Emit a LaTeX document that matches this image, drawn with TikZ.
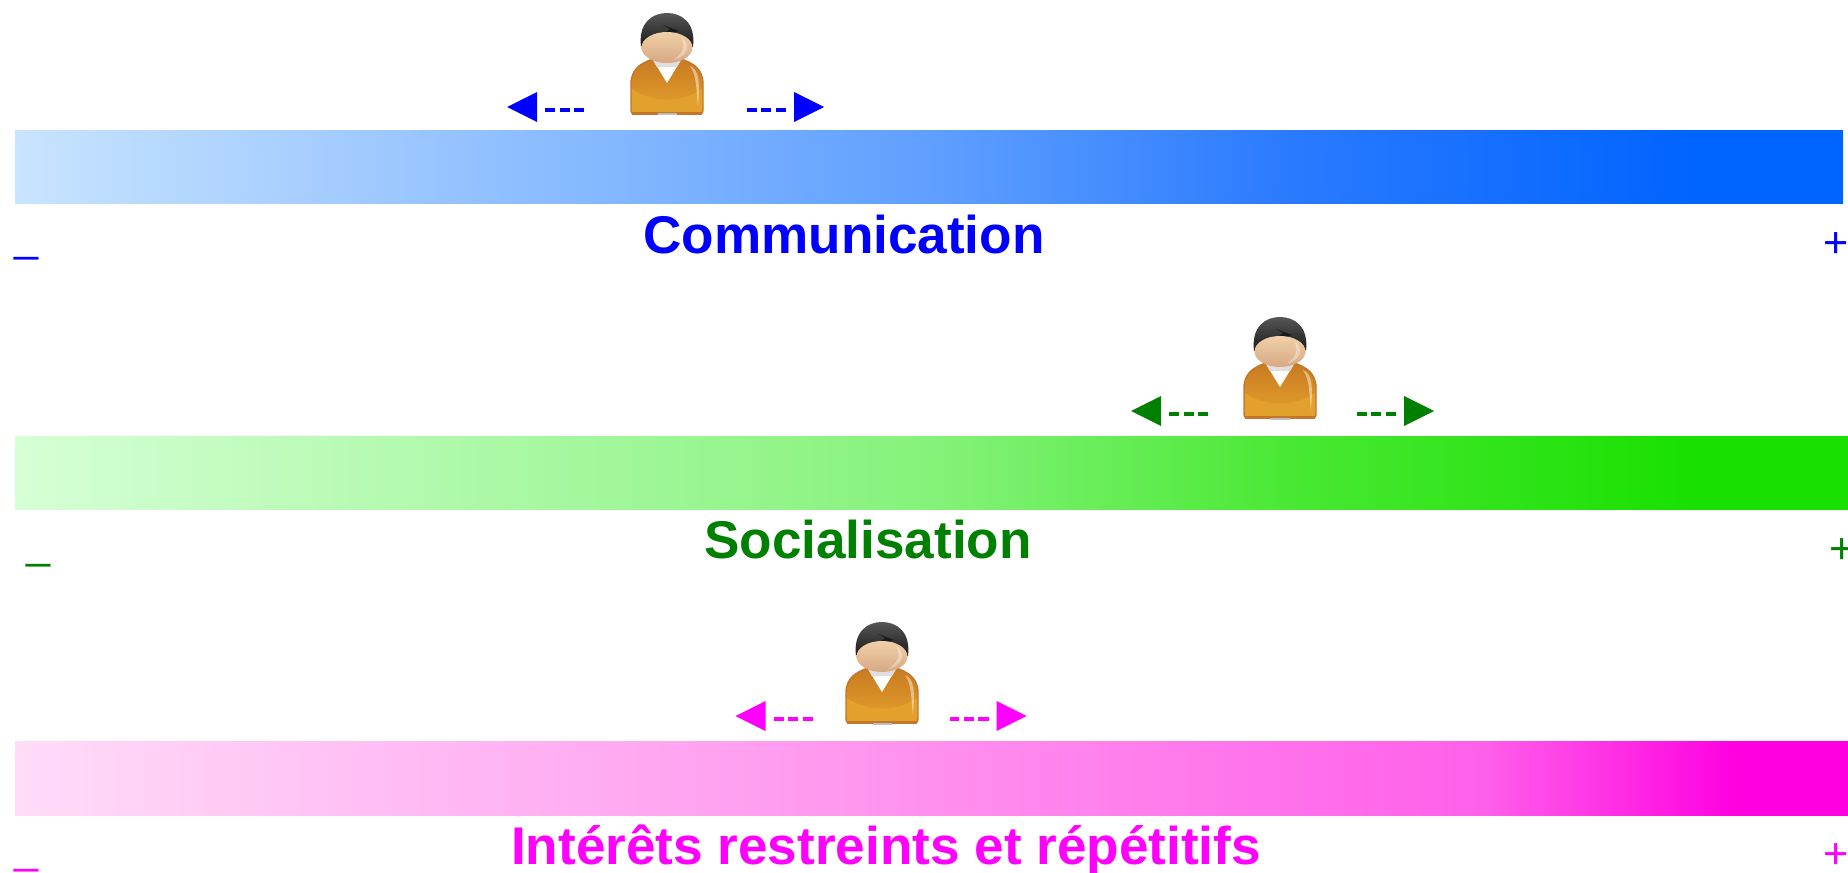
\documentclass[tikz,border=0pt]{standalone}
\usepackage{fontspec}
\setmainfont{Liberation Sans}
\definecolor{shirtdark}{HTML}{C97A22}
\definecolor{shirtlight}{HTML}{E4A22C}
\definecolor{shirtlens}{HTML}{E2A02C}
\definecolor{shirtedge}{HTML}{C4762A}
\definecolor{hairtop}{HTML}{565656}
\definecolor{hairlow}{HTML}{1A1A1A}
\definecolor{skintop}{HTML}{F0D0A8}
\definecolor{skinlow}{HTML}{D6A883}
\definecolor{commcolor}{HTML}{0000FF}
\definecolor{soccolor}{HTML}{008000}
\definecolor{intcolor}{HTML}{FF00FF}
\definecolor{commA}{HTML}{C8E4FF}
\definecolor{commB}{HTML}{5F9FFF}
\definecolor{commC}{HTML}{2A7AFF}
\definecolor{commD}{HTML}{0064FF}
\definecolor{socA}{HTML}{D6FFD6}
\definecolor{socB}{HTML}{85F27A}
\definecolor{socC}{HTML}{48E832}
\definecolor{socD}{HTML}{18E000}
\definecolor{intA}{HTML}{FFDCF8}
\definecolor{intB}{HTML}{FF90EE}
\definecolor{intC}{HTML}{FF60EA}
\definecolor{intD}{HTML}{FF00E0}
\pgfdeclarehorizontalshading{commbar}{100bp}{color(0bp)=(commA); color(25bp)=(commA); color(50bp)=(commB); color(60bp)=(commC); color(71bp)=(commD); color(100bp)=(commD)}
\pgfdeclarehorizontalshading{socbar}{100bp}{color(0bp)=(socA); color(25bp)=(socA); color(50bp)=(socB); color(60bp)=(socC); color(71bp)=(socD); color(100bp)=(socD)}
\pgfdeclarehorizontalshading{intbar}{100bp}{color(0bp)=(intA); color(25bp)=(intA); color(50bp)=(intB); color(65bp)=(intC); color(72bp)=(intD); color(100bp)=(intD)}
\tikzset{
  titlelabel/.style={anchor=base,font=\fontsize{15.1}{18}\selectfont\bfseries},
  endlabel/.style={anchor=base,font=\fontsize{12.3}{15}\selectfont},
  dashline/.style={line width=1pt,dash pattern=on 2.85pt off 1.3pt},
  pics/person/.style={code={
      % body
      \path[top color=shirtdark,bottom color=shirtlight,draw=shirtedge,line width=0.4pt]
        (-36,109) -- (-36,84) .. controls (-36,69) and (-26,63) .. (-14,59) -- (14,59)
        .. controls (26,63) and (36,69) .. (36,84) -- (36,109)
        .. controls (36,113) and (35,114) .. (31,114) -- (-31,114)
        .. controls (-35,114) and (-36,113) .. (-36,109) -- cycle ;
      \fill[shirtlens] (-35,89) .. controls (-15,103) and (15,103) .. (35,89) -- (35,112) -- (-35,112) -- cycle ;
      \fill[shirtedge] (-35,112) rectangle (35,115) ;
      \fill[lightgray] (-9.5,113.5) rectangle (9.5,115.5) ;
      \fill[white] (-14,60) -- (0,83) -- (14,60) -- cycle ;
      \fill[gray!25] (-14,60) -- (14,60) -- (10,67) -- (-10,67) -- cycle ;
      \fill[white,opacity=0.45] (23,66) .. controls (32,70) and (33,80) .. (31,106) .. controls (29,90) and (30,76) .. (23,66) -- cycle ;
      % head
      \shade[top color=hairtop,bottom color=hairlow] (-26,47) .. controls (-29,22) and (-14,13) .. (0,13)
        .. controls (14,13) and (29,22) .. (26,47) -- cycle ;
      \fill[hairlow] (-4,25) -- (12,31) -- (5,33) -- (-1,32) -- (3,29) -- cycle ;
      \shade[top color=skintop,bottom color=skinlow] (0,47.5) ellipse (25.5 and 15.5) ;
      \fill[white,opacity=0.35] (14,37) .. controls (24,44) and (22,56) .. (6,60) .. controls (16,54) and (19,46) .. (14,37) -- cycle ;
    }},
  pics/tipleft/.style={code={
      \coordinate (-a) at (38,3) ;
      \coordinate (-b) at (77,3) ;
      \draw[#1,dashline] (-a) -- (-b) ;
      \fill[#1] (0,0) -- (30,-15) -- (30,15) -- cycle ;
    }},
  pics/tipright/.style={code={
      \coordinate (-a) at (-38,3) ;
      \coordinate (-b) at (-77,3) ;
      \draw[#1,dashline] (-a) -- (-b) ;
      \fill[#1] (0,0) -- (-30,-15) -- (-30,15) -- cycle ;
    }},
}

\begin{document}
\begin{tikzpicture}[x=0.01cm,y=-0.01cm]
      \useasboundingbox (0,0) rectangle (1848,873) ;
      % communication
      \shade[shading=commbar] (15,131) rectangle (1843,204) ;
      \path (667,0) pic (commperson) {person} ;
      \path (507,107) pic (commleft) {tipleft=commcolor} ;
      \path (824,107) pic (commright) {tipright=commcolor} ;
      \node[titlelabel,commcolor] (commtitle) at (844,253.5) {Communication} ;
      \node[endlabel,commcolor] (commminus) at (27,251.5) {\_} ;
      \node[endlabel,commcolor] (commplus) at (1836,257.5) {+} ;
      % socialisation
      \shade[shading=socbar] (15,436) rectangle (1848,509) ;
      \path (1280,304) pic (socperson) {person} ;
      \path (1131,411) pic (socleft) {tipleft=soccolor} ;
      \path (1434,411) pic (socright) {tipright=soccolor} ;
      \node[titlelabel,soccolor] (soctitle) at (868,558.5) {Socialisation} ;
      \node[endlabel,soccolor] (socminus) at (39,558) {\_} ;
      \node[endlabel,soccolor] (socplus) at (1842,563.5) {+} ;
      % interets
      \shade[shading=intbar] (15,741) rectangle (1848,815) ;
      \path (882,609) pic (intperson) {person} ;
      \path (735.5,716) pic (intleft) {tipleft=intcolor} ;
      \path (1026.5,716) pic (intright) {tipright=intcolor} ;
      \node[titlelabel,intcolor] (inttitle) at (886,864.5) {Intérêts restreints et répétitifs} ;
      \node[endlabel,intcolor] (intminus) at (27,863) {\_} ;
      \node[endlabel,intcolor] (intplus) at (1836,868.5) {+} ;
    \end{tikzpicture}
\end{document}
